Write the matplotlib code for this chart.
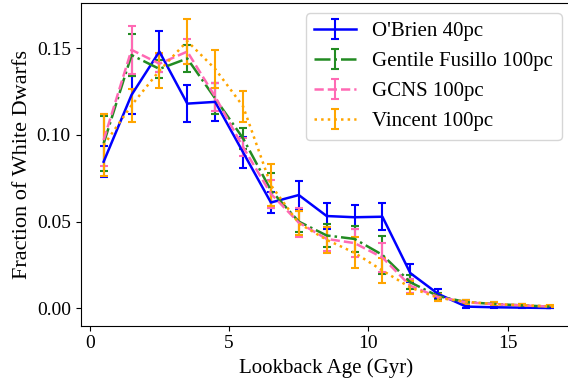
import numpy as np
import matplotlib
matplotlib.use("Agg")
import matplotlib.pyplot as plt

plt.rcParams['font.family'] = ['Liberation Serif', 'DejaVu Serif']
plt.rcParams['mathtext.fontset'] = 'stix'

# age bins (Gyr)
age = [0.5, 1.5, 2.5, 3.5, 4.5, 5.5, 6.5, 7.5, 8.5, 9.5, 10.5,
       11.5, 12.5, 13.5, 14.5, 15.5, 16.5]

# O'Brien 40pc
obrien = [0.0845, 0.123, 0.148, 0.118, 0.119, 0.090, 0.061, 0.0653, 0.0532,
          0.0525, 0.0528, 0.0203, 0.0083, 0.0010, 0.0006, 0.0004, 0.0002]
obrien_err = [0.009, 0.011, 0.012, 0.0105, 0.011, 0.009, 0.006, 0.0083, 0.0073,
              0.007, 0.0077, 0.005, 0.0026, 0.0007, 0.0004, 0.0003, 0.0002]

# Gentile Fusillo 100pc
gf = [0.095, 0.146, 0.138, 0.144, 0.121, 0.098, 0.068, 0.050, 0.042,
      0.040, 0.0308, 0.015, 0.007, 0.0036, 0.0025, 0.0017, 0.0010]
gf_err = [0.016, 0.012, 0.005, 0.008, 0.009, 0.006, 0.010, 0.006, 0.0066,
          0.0075, 0.011, 0.004, 0.002, 0.0012, 0.0009, 0.0007, 0.0005]

# GCNS 100pc
gcns = [0.097, 0.149, 0.141, 0.148, 0.122, 0.093, 0.066, 0.0494, 0.040,
        0.0376, 0.0293, 0.013, 0.0065, 0.0035, 0.0024, 0.0017, 0.0010]
gcns_err = [0.015, 0.014, 0.005, 0.007, 0.008, 0.005, 0.008, 0.0083, 0.007,
            0.0079, 0.0082, 0.004, 0.002, 0.0012, 0.0009, 0.0007, 0.0005]

# Vincent 100pc
vincent = [0.094, 0.117, 0.137, 0.154, 0.138, 0.1165, 0.071, 0.049, 0.0395,
           0.032, 0.0218, 0.012, 0.006, 0.0038, 0.0025, 0.0018, 0.0012]
vincent_err = [0.018, 0.0095, 0.010, 0.013, 0.011, 0.009, 0.012, 0.007, 0.0075,
               0.009, 0.007, 0.004, 0.002, 0.0012, 0.0009, 0.0007, 0.0005]

fig = plt.figure(figsize=(5.68, 3.86), dpi=100)
ax = fig.add_axes([80.5/568, 1 - 325.5/386, (572 - 80.5)/568, (325.5 - 3)/386])

ax.errorbar(age, obrien, yerr=obrien_err, color='blue', ls='-', lw=1.8,
            capsize=3, capthick=1.5, elinewidth=1.5, label="O'Brien 40pc")
ax.errorbar(age, gf, yerr=gf_err, color='forestgreen', ls='-.', lw=1.8,
            capsize=3, capthick=1.5, elinewidth=1.5, label='Gentile Fusillo 100pc')
ax.errorbar(age, gcns, yerr=gcns_err, color='hotpink', ls='--', lw=1.8,
            capsize=3, capthick=1.5, elinewidth=1.5, label='GCNS 100pc')
ax.errorbar(age, vincent, yerr=vincent_err, color='orange', ls=':', lw=1.8,
            capsize=3, capthick=1.5, elinewidth=1.5, label='Vincent 100pc')

ax.set_xlim(-0.33, 17.3)
ax.set_ylim(-0.0099, 0.176)
ax.set_xticks([0, 5, 10, 15])
ax.set_yticks([0.0, 0.05, 0.10, 0.15])
ax.tick_params(labelsize=14)
ax.set_xlabel('Lookback Age (Gyr)', fontsize=15)
ax.set_ylabel('Fraction of White Dwarfs', fontsize=16, labelpad=3)
ax.legend(loc='upper right', fontsize=15)

fig.savefig('out.png', dpi=100)
